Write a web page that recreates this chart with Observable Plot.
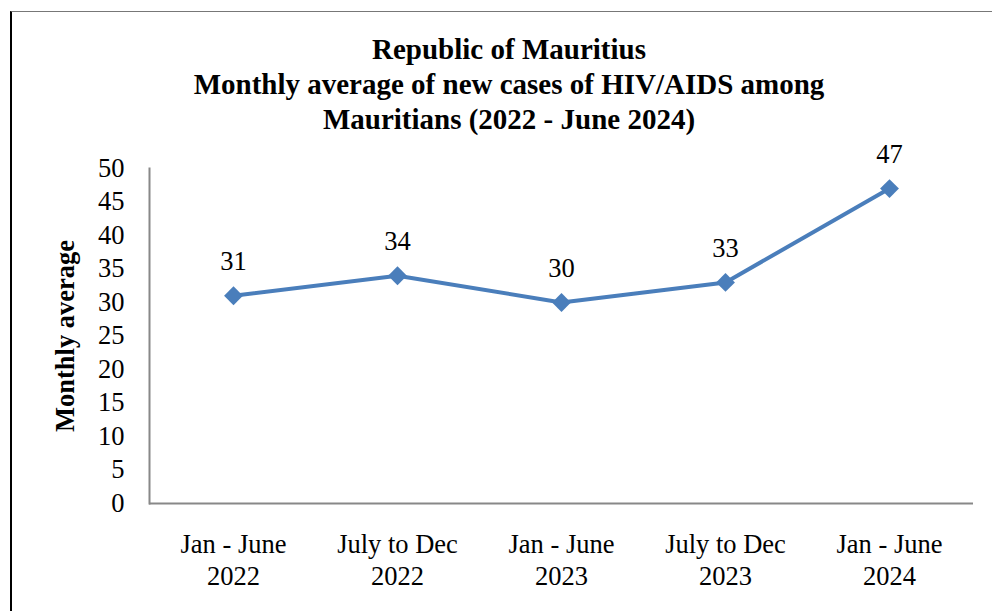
<!DOCTYPE html>
<html>
<head>
<meta charset="utf-8">
<script src="https://cdn.jsdelivr.net/npm/d3@7"></script>
<script src="https://cdn.jsdelivr.net/npm/@observablehq/plot@0.6"></script>
<style>
  html, body { margin: 0; padding: 0; background: #fff; }
  #wrap { position: relative; width: 992px; height: 611px; overflow: hidden; font-family: "Liberation Serif", "Times New Roman", serif; }
  #frame { position: absolute; left: 10px; top: 11px; width: 1100px; height: 700px; border-left: 2px solid #000; border-top: 1px solid #777; box-sizing: border-box; }
  #title { position: absolute; left: 0; top: 32px; width: 1018px; text-align: center; font-weight: bold; font-size: 29px; line-height: 35px; white-space: nowrap; color: #000; }
  #chart { position: absolute; left: 0; top: 0; }
</style>
</head>
<body>
<div id="wrap">
  <div id="frame"></div>
  <div id="title">Republic of Mauritius<br>Monthly average of new cases of HIV/AIDS among<br>Mauritians (2022 - June 2024)</div>
  <div id="chart"></div>
</div>
<script>
const categories = ["Jan - June\n2022", "July to Dec\n2022", "Jan - June\n2023", "July to Dec\n2023", "Jan - June\n2024"];
const values = [31, 34, 30, 33, 47];
const yTicks = [0, 5, 10, 15, 20, 25, 30, 35, 40, 45, 50];
const yLabel = "Monthly average";

const data = categories.map((c, i) => ({period: c, value: values[i]}));
const blue = "#4a7ebb";

const chart = Plot.plot({
  width: 992,
  height: 611,
  marginLeft: 149,
  marginRight: 19,
  marginTop: 168,
  marginBottom: 108,
  style: {background: "transparent", fontFamily: "'Liberation Serif', 'Times New Roman', serif", color: "#000", overflow: "visible"},
  x: {type: "point", domain: categories, padding: 0.5},
  y: {domain: [0, 50]},
  marks: [
    Plot.axisY({ticks: yTicks, tickSize: 0, tickPadding: 25, fontSize: 26.5, label: null}),
    Plot.axisX({tickSize: 0, tickPadding: 27, fontSize: 26.5, lineHeight: 1.2, label: null}),
    Plot.frame({anchor: "left", stroke: "#888", strokeWidth: 2}),
    Plot.ruleY([0], {stroke: "#888", strokeWidth: 2}),
    Plot.line(data, {x: "period", y: "value", stroke: blue, strokeWidth: 4}),
    Plot.dot(data, {x: "period", y: "value", symbol: "diamond2", r: 8.5, fill: blue, stroke: null}),
    Plot.text(data, {x: "period", y: "value", text: d => String(d.value), dy: -34, fontSize: 26.5, fill: "#000"}),
    Plot.text([yLabel], {frameAnchor: "left", textAnchor: "middle", text: d => d, rotate: -90, dx: -84, fontSize: 26.5, fontWeight: "bold", fill: "#000"})
  ]
});
document.getElementById("chart").appendChild(chart);
</script>
</body>
</html>
